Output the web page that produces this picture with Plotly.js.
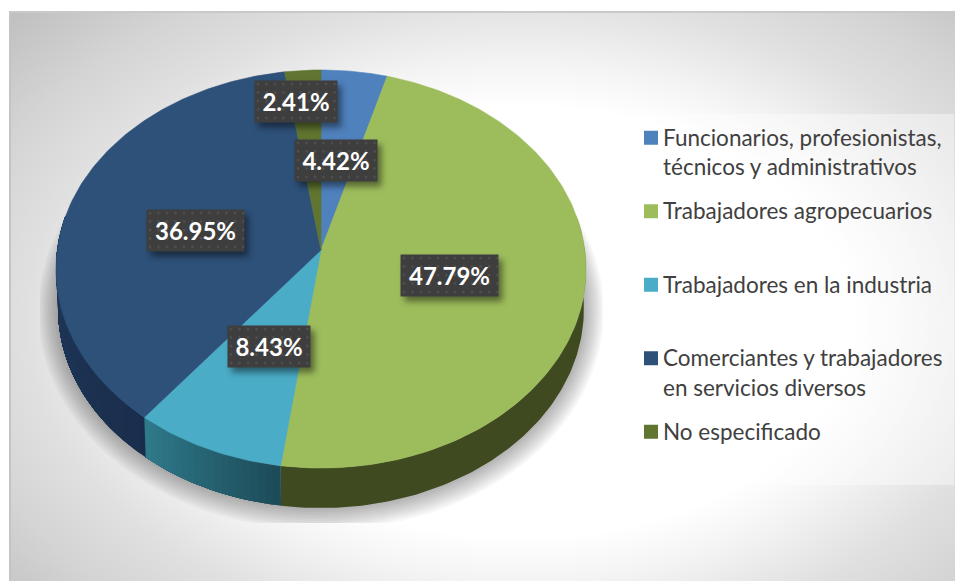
<!DOCTYPE html>
<html lang="es">
<head>
<meta charset="utf-8">
<script src="https://cdn.plot.ly/plotly-3.0.1.min.js"></script>
<style>
html,body{margin:0;padding:0;background:#fff;width:957px;height:581px;overflow:hidden}
#bg{position:absolute;left:9px;top:11px;width:946px;height:570px;box-sizing:border-box;
 border-top:2px solid #c9c9c9;border-left:2px solid #c4c4c4;
 background:radial-gradient(ellipse 660px 430px at 511px 309px,#ffffff 50%,#f4f4f4 60%,#e0e0e0 75%,#d4d4d4 88%,#c0c0c0 105%)}
#chart{position:absolute;left:0;top:0;width:957px;height:581px}
.annotation rect.bg{fill:url(#dots)!important;filter:drop-shadow(4px 5px 3px rgba(0,0,0,.45))}
.legend .legendpoints{transform:translate(8px,-14px)}
</style>
</head>
<body>
<svg width="0" height="0" style="position:absolute"><defs>
<pattern id="dots" width="8.5" height="8.5" patternUnits="userSpaceOnUse">
<rect width="8.5" height="8.5" fill="#3e3e3e"/><rect x="3" y="3" width="2" height="2" fill="#555555"/>
</pattern></defs></svg>
<div id="bg"></div>
<div id="chart"></div>
<script>
// ---- data ----
var categories = [
  'Funcionarios, profesionistas,<br>técnicos y administrativos',
  'Trabajadores agropecuarios<br> ',
  'Trabajadores en la industria<br> ',
  'Comerciantes y trabajadores<br>en servicios diversos',
  'No especificado<br> '
];
var shares = [4.42, 47.79, 8.43, 36.95, 2.41];

// ---- styles ----
var topColors  = ['#4f81bd', '#9dbd5c', '#4bacc7', '#2e5179', '#5f7530'];
var wallFrom   = ['#4f81bd', '#3f4a21', '#1d4a58', '#1a2e4c', '#5f7530'];
var wallTo     = ['#4f81bd', '#3f4a21', '#2f7b8b', '#20395d', '#5f7530'];
var labelCentres = [[336,160],[449,275],[269,346],[195.5,230],[296,101]];

// ---- projection of the tilted disc (unit disc, apex at 0,0) ----
var cxPx = 321, cyPx = 250, xUnit = 263.8, yUnit = 197.2, tilt = 0.0955;
function rim(deg){
  var t = deg*Math.PI/180, u = Math.sin(t), v = -Math.cos(t), d = 1 - tilt*v;
  return [u/d, v/d];
}
function pxX(p){ return (p-cxPx)/xUnit; }
function pxY(p){ return (p-cyPx)/yUnit; }
var depth = 40/yUnit, shrink = 0.992;

function arc(a, b, step){
  var out = [], n = Math.max(2, Math.ceil(Math.abs(b-a)/(step||1)));
  for (var i=0;i<=n;i++) out.push(rim(a+(b-a)*i/n));
  return out;
}
function mix(c1,c2,f){
  var p=function(c,i){return parseInt(c.substr(i,2),16)};
  var s='rgb(';
  [1,3,5].forEach(function(i,k){ s+=Math.round(p(c1,i)+(p(c2,i)-p(c1,i))*f)+(k<2?',':')'); });
  return s;
}

var traces = [];

// soft shadow beneath the disc
for (var s=0;s<11;s++){
  var grow = 20 - s*2, xs=[], ys=[];
  for (var a=0;a<=360;a+=3){
    var r = rim(a), sx = (r[0]*shrink)*(1+grow/263), sy = r[1]*(1+grow/199)+depth;
    xs.push(Math.max(pxX(40),Math.min(pxX(603),sx)));
    ys.push(Math.min(pxY(523),sy));
  }
  traces.push({type:'scatter',mode:'lines',x:xs,y:ys,fill:'toself',fillcolor:'rgba(0,0,0,0.032)',
    line:{width:0},showlegend:false,hoverinfo:'skip'});
}

// side walls (each strip runs to the end of the wall, later strips paint over it, so no seams show)
var cum = 0, starts = [];
shares.forEach(function(v){ starts.push(cum); cum += v; });
shares.forEach(function(v,i){
  var a0 = starts[i]*3.6, a1 = (starts[i]+v)*3.6;
  var w0 = Math.max(a0,80), w1 = Math.min(a1,280);
  if (w1<=w0) return;
  var strips = wallFrom[i]===wallTo[i] ? 1 : Math.round((w1-w0)/1.5);
  for (var k=0;k<strips;k++){
    var b0 = w0+(w1-w0)*k/strips;
    var upper = arc(b0,w1,1), lower = arc(w1,b0,1);
    var xs = upper.map(function(p){return p[0]}).concat(lower.map(function(p){return p[0]*shrink}));
    var ys = upper.map(function(p){return p[1]}).concat(lower.map(function(p){return p[1]+depth}));
    var col = mix(wallFrom[i],wallTo[i],(k+0.5)/strips);
    traces.push({type:'scatter',mode:'lines',x:xs,y:ys,fill:'toself',fillcolor:col,
      line:{width:0},showlegend:false,hoverinfo:'skip'});
  }
});
// top faces
shares.forEach(function(v,i){
  var pts = arc(starts[i]*3.6,(starts[i]+v)*3.6,1);
  traces.push({type:'scatter',mode:'lines',
    x:[0].concat(pts.map(function(p){return p[0]}),[0]),
    y:[0].concat(pts.map(function(p){return p[1]}),[0]),
    fill:'toself',fillcolor:topColors[i],line:{width:0.6,color:topColors[i]},
    showlegend:false,hoverinfo:'text',text:v.toFixed(2)+'%'});
});

// legend entries
categories.forEach(function(c,i){
  traces.push({type:'scatter',mode:'markers',x:[null],y:[null],name:c,legendgroup:'g'+i,
    marker:{symbol:'square',size:14,color:topColors[i]}});
});

var annotations = shares.map(function(v,i){
  var txt = v.toFixed(2)+'%';
  return {xref:'x',yref:'y',x:pxX(labelCentres[i][0]),y:pxY(labelCentres[i][1]),
    text:'<b>'+txt+'</b>',showarrow:false,bgcolor:'#3e3e3e',
    font:{family:'Lato',size:24,color:'#ffffff'},
    width:txt.length>5?97:82,height:41,borderpad:0};
});

var layout = {
  width:957,height:581,margin:{l:0,r:0,t:0,b:0},
  paper_bgcolor:'rgba(0,0,0,0)',plot_bgcolor:'rgba(0,0,0,0)',
  xaxis:{visible:false,fixedrange:true,range:[pxX(0),pxX(957)]},
  yaxis:{visible:false,fixedrange:true,range:[pxY(581),pxY(0)]},
  showlegend:true,
  legend:{x:623/957,y:1-116/581,xanchor:'left',yanchor:'top',
    bgcolor:'rgba(0,0,0,0)',itemwidth:30,tracegroupgap:12,itemclick:false,itemdoubleclick:false,
    font:{family:'Lato',size:22.5,color:'#404040'}},
  shapes:[{type:'rect',xref:'paper',yref:'paper',layer:'below',
    x0:631/957,x1:954/957,y0:1-485/581,y1:1-114/581,
    fillcolor:'rgba(255,255,255,0.4)',line:{width:0}}],
  annotations:annotations,
  hovermode:'closest'
};
Plotly.newPlot('chart',traces,layout,{displayModeBar:false,responsive:false});
</script>
</body>
</html>
